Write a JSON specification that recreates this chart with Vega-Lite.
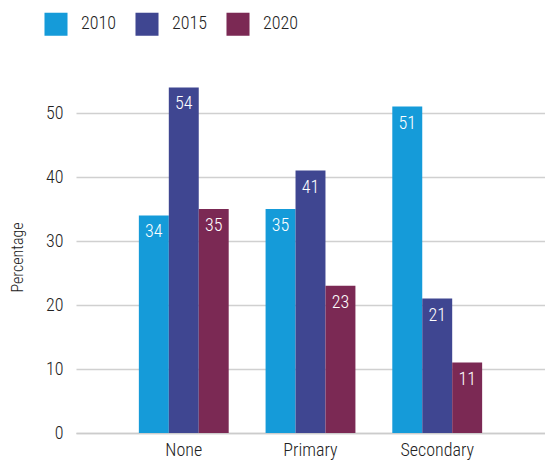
{
  "$schema": "https://vega.github.io/schema/vega-lite/v6.json",
  "autosize": "none",
  "width": 469,
  "height": 352,
  "padding": {"left": 76, "top": 81, "right": 0, "bottom": 30},
  "background": "white",
  "config": {
    "view": {"stroke": null},
    "font": "'Roboto Condensed', Roboto, sans-serif"
  },
  "data": {
    "values": [
      {"level": "None", "year": "2010", "value": 34},
      {"level": "None", "year": "2015", "value": 54},
      {"level": "None", "year": "2020", "value": 35},
      {"level": "Primary", "year": "2010", "value": 35},
      {"level": "Primary", "year": "2015", "value": 41},
      {"level": "Primary", "year": "2020", "value": 23},
      {"level": "Secondary", "year": "2010", "value": 51},
      {"level": "Secondary", "year": "2015", "value": 21},
      {"level": "Secondary", "year": "2020", "value": 11}
    ]
  },
  "encoding": {
    "x": {
      "field": "level", "type": "nominal", "sort": ["None", "Primary", "Secondary"],
      "scale": {"paddingInner": 0.291, "paddingOuter": 0.496},
      "axis": {"title": null, "labelAngle": 0, "labelFontSize": 18, "labelFontWeight": 300, "labelColor": "#222", "ticks": false, "domainColor": "#cccccc", "domainWidth": 1.5, "labelPadding": 8}
    },
    "xOffset": {"field": "year", "type": "nominal", "scale": {"paddingInner": 0, "paddingOuter": 0}},
    "y": {
      "field": "value", "type": "quantitative",
      "scale": {"domain": [0, 55], "nice": false},
      "axis": {"title": "Percentage", "titleFontSize": 16, "titleFontWeight": 300, "titleColor": "#222", "titlePadding": 20,
        "values": [0, 10, 20, 30, 40, 50], "labelFontSize": 18, "labelFontWeight": 300, "labelColor": "#222", "ticks": false, "domain": false,
        "gridColor": "#d0d0d0", "gridWidth": 1.5, "labelPadding": 13}
    }
  },
  "layer": [
    {
      "mark": {"type": "bar"},
      "encoding": {
        "color": {
          "field": "year", "type": "nominal",
          "scale": {"domain": ["2010", "2015", "2020"], "range": ["#159bd9", "#3f4691", "#7b2954"]},
          "legend": {
            "title": null, "orient": "none", "legendX": -32, "legendY": -69, "direction": "horizontal",
            "symbolType": "square", "symbolSize": 530, "symbolStrokeWidth": 0, "symbolOpacity": 1,
            "labelFontSize": 18, "labelFontWeight": 300, "labelColor": "#222", "labelOffset": 13, "columnPadding": 18, "symbolLimit": 0
          }
        }
      }
    },
    {
      "mark": {"type": "text", "baseline": "top", "dy": 8, "color": "white", "fontSize": 18, "fontWeight": 300},
      "encoding": {"text": {"field": "value", "type": "quantitative"}}
    }
  ]
}
